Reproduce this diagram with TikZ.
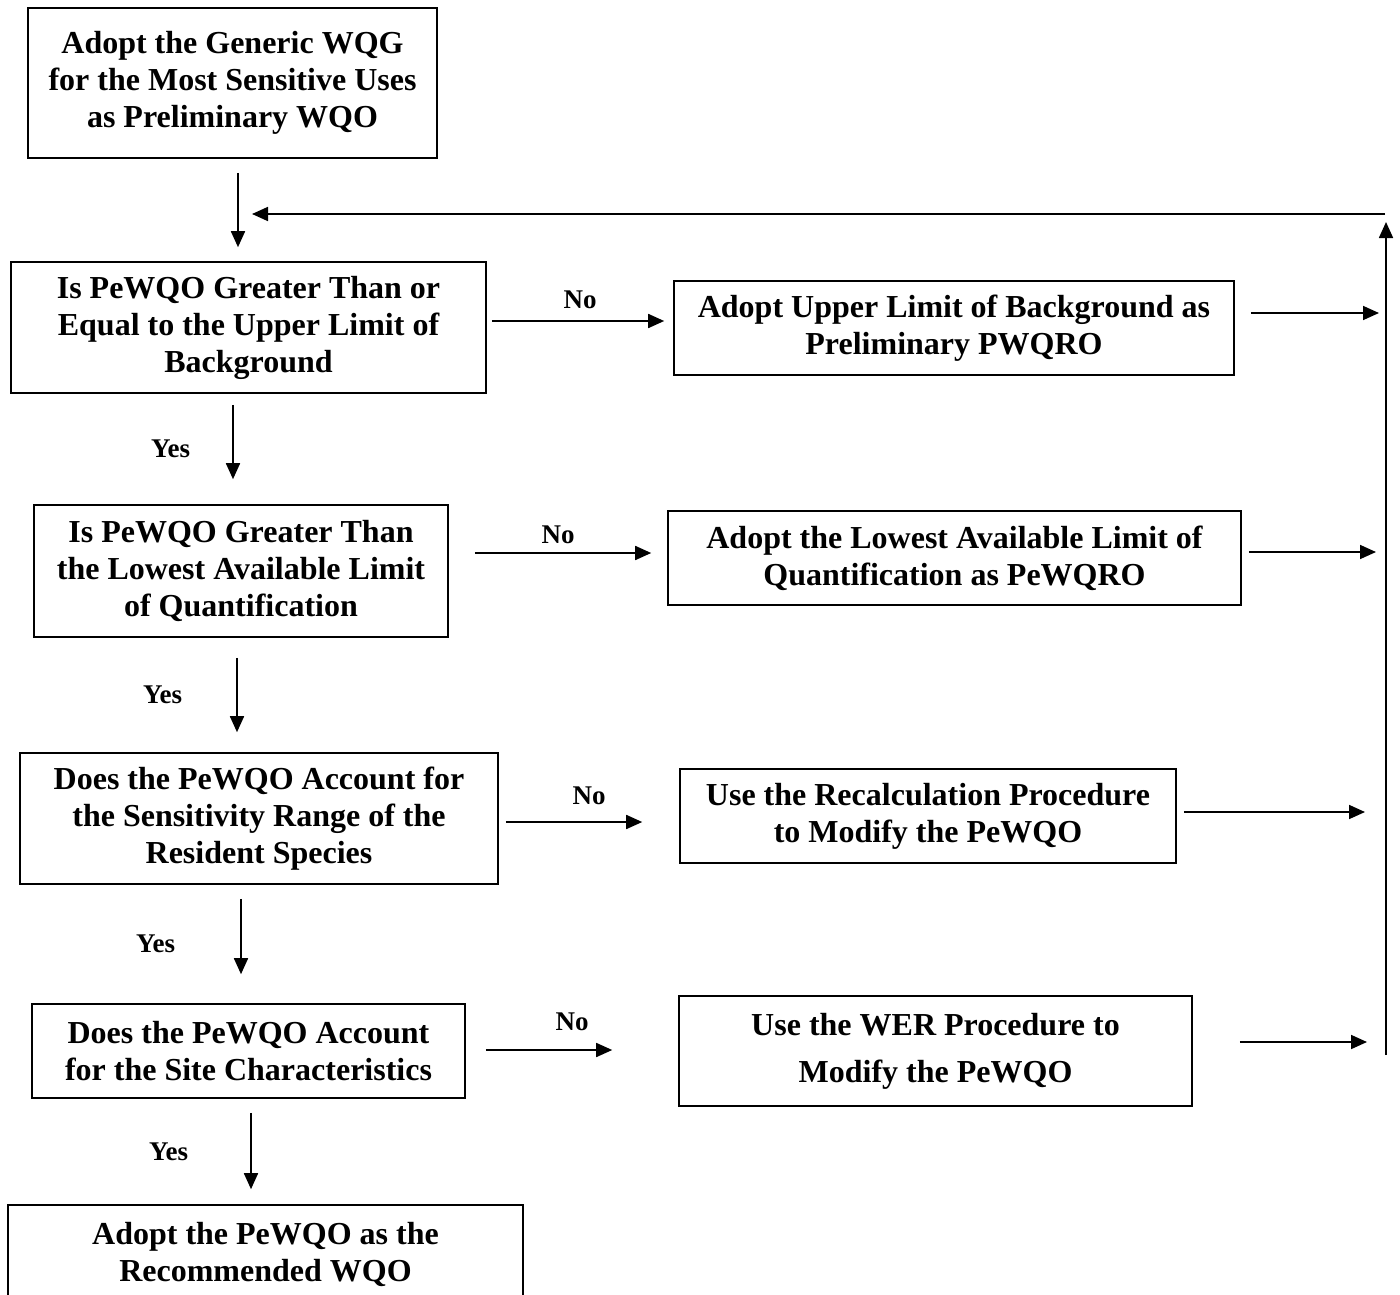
\documentclass[tikz,border=0pt]{standalone}
\usepackage{fontspec}
\setmainfont{Liberation Serif}
\usetikzlibrary{arrows.meta, positioning}

\begin{document}
\begin{tikzpicture}[x=1pt, y=-1pt,
  every node/.style={font=\bfseries\fontsize{32}{37}\selectfont},
  box/.style={draw, line width=1.6pt, align=center, inner sep=0pt},
  lbl/.style={font=\bfseries\fontsize{27}{32}\selectfont, inner sep=2pt},
  arr/.style={-{Triangle[length=16pt, width=14pt]}, line width=1.7pt}]
\useasboundingbox (0,0) rectangle (1400,1295);

% left column
\node (start) [box, minimum width=409pt, minimum height=150pt] at (232.5,83) {Adopt the Generic WQG\\for the Most Sensitive Uses\\as Preliminary WQO};
\node (bkg) [box, minimum width=475pt, minimum height=131pt] at (248.5,327.5) {Is PeWQO Greater Than or\\Equal to the Upper Limit of\\Background};
\node (loq) [box, minimum width=414pt, minimum height=132pt] at (241,571) {Is PeWQO Greater Than\\the Lowest Available Limit\\of Quantification};
\node (sens) [box, minimum width=478pt, minimum height=131pt] at (259,818.5) {Does the PeWQO Account for\\the Sensitivity Range of the\\Resident Species};
\node (site) [box, minimum width=433pt, minimum height=94pt] at (248.5,1051) {Does the PeWQO Account\\for the Site Characteristics};
\node (final) [box, minimum width=515pt, minimum height=99pt] at (265.5,1254.5) {Adopt the PeWQO as the\\Recommended WQO};

% right column
\node (upper) [box, minimum width=560pt, minimum height=94pt] at (954,328) {Adopt Upper Limit of Background as\\Preliminary PWQRO};
\node (lowest) [box, minimum width=573pt, minimum height=94pt] at (954.5,558) {Adopt the Lowest Available Limit of\\Quantification as PeWQRO};
\node (recalc) [box, minimum width=496pt, minimum height=94pt] at (928,816) {Use the Recalculation Procedure\\to Modify the PeWQO};
\node (wer) [box, minimum width=513pt, minimum height=110pt] at (935.5,1051) {Use the WER Procedure to\\[10pt]Modify the PeWQO};

% return line
\coordinate (railbot) at (1386,1055);
\coordinate (railtop) at (1386,222);
\coordinate (loopR) at (1385,214);

% yes branch
\draw[arr, shorten <=14pt, shorten >=14pt] ([xshift=5.5pt]start.south) -- ([xshift=5.5pt]start.south |- bkg.north);
\draw[arr, shorten <=11pt, shorten >=25pt] ([xshift=-15.5pt]bkg.south) -- ([xshift=-15.5pt]bkg.south |- loq.north) node[lbl, midway, left=40pt] {Yes};
\draw[arr, shorten <=20pt, shorten >=20pt] ([xshift=-4pt]loq.south) -- ([xshift=-4pt]loq.south |- sens.north) node[lbl, midway, left=52pt] {Yes};
\draw[arr, shorten <=14pt, shorten >=29pt] ([xshift=-18pt]sens.south) -- ([xshift=-18pt]sens.south |- site.north) node[lbl, midway, left=63pt] {Yes};
\draw[arr, shorten <=14pt, shorten >=15pt] ([xshift=2.5pt]site.south) -- ([xshift=2.5pt]site.south |- final.north) node[lbl, midway, left=60pt] {Yes};

% no branch
\draw[arr, shorten <=5pt, shorten >=9pt] ([yshift=6.5pt]bkg.east) -- ([yshift=6.5pt]bkg.east -| upper.west) node[lbl, midway, above=9pt] {No};
\draw[arr, shorten <=26pt, shorten >=16pt] ([yshift=18pt]loq.east) -- ([yshift=18pt]loq.east -| lowest.west) node[lbl, midway, above=6pt] {No};
\draw[arr, shorten <=7pt, shorten >=37pt] ([yshift=-3.5pt]sens.east) -- ([yshift=-3.5pt]sens.east -| recalc.west) node[lbl, midway, above=14pt] {No};
\draw[arr, shorten <=20pt, shorten >=66pt] ([yshift=1pt]site.east) -- ([yshift=1pt]site.east -| wer.west) node[lbl, midway, above=16pt] {No};

% back to the top
\draw[arr, shorten <=16pt, shorten >=7pt] ([yshift=15pt]upper.east) -- ([yshift=15pt]upper.east -| railtop);
\draw[arr, shorten <=7pt, shorten >=10pt] ([yshift=6pt]lowest.east) -- ([yshift=6pt]lowest.east -| railtop);
\draw[arr, shorten <=7pt, shorten >=21pt] ([yshift=4pt]recalc.east) -- ([yshift=4pt]recalc.east -| railtop);
\draw[arr, shorten <=47pt, shorten >=19pt] ([yshift=9pt]wer.east) -- ([yshift=9pt]wer.east -| railtop);
\draw[arr] (railbot) -- (railtop);
\draw[arr, shorten >=19.5pt] (loopR) -- (loopR -| start.south);
\end{tikzpicture}
\end{document}
